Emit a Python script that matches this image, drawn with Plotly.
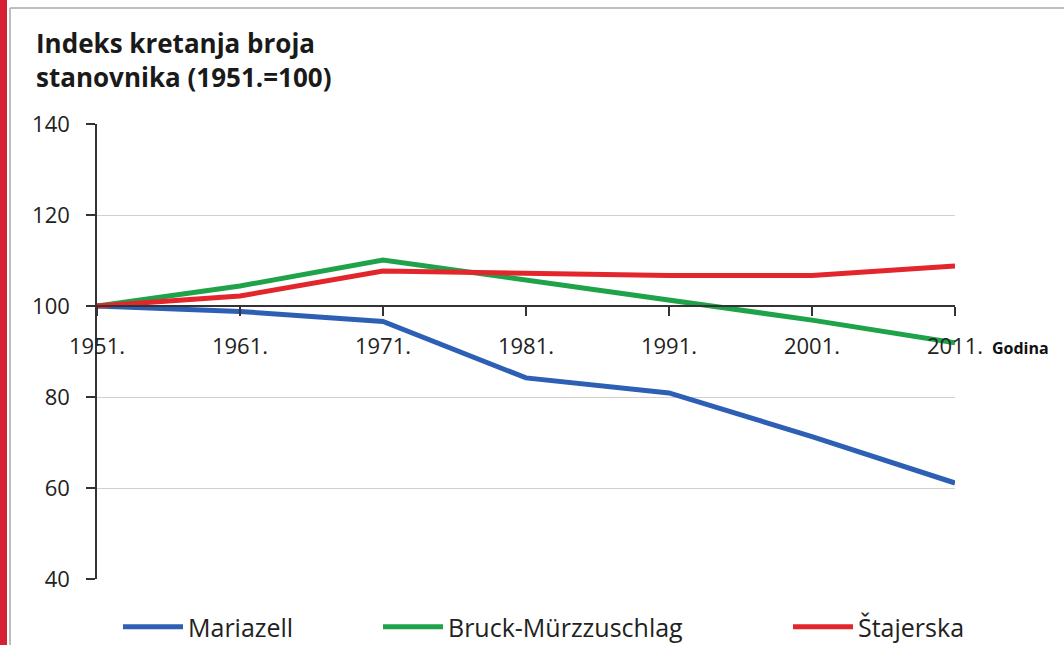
import plotly.graph_objects as go

years = ["1951.", "1961.", "1971.", "1981.", "1991.", "2001.", "2011."]
mariazell = [100, 98.8, 96.6, 84.2, 80.9, 71.3, 61.1]
bruck = [100, 104.4, 110.1, 105.7, 101.3, 96.9, 91.9]
stajerska = [100, 102.2, 107.7, 107.3, 106.7, 106.7, 108.8]
series_names = ["Mariazell", "Bruck-Mürzzuschlag", "Štajerska"]
colors = ["#2d5fb4", "#1ea34a", "#e3262b"]

L, R, T, B = 97, 1064 - 955, 124, 645 - 579
W = 1064 - L - R
H = 645 - T - B

fig = go.Figure()
for i, (name, vals) in enumerate(zip(series_names, [mariazell, bruck, stajerska])):
    fig.add_trace(go.Scatter(
        x=years, y=vals, mode="lines", name=name,
        line=dict(color=colors[i], width=5),
        legend="legend" if i == 0 else f"legend{i+1}",
    ))

font_fam = "Open Sans, Noto Sans, sans-serif"

def px_x(p):
    return (p - L) / W

def px_y(p):
    return (645 - B - p) / H

legend_common = dict(orientation="h", yanchor="middle", xanchor="left",
                     font=dict(family=font_fam, size=25, color="#222"),
                     bgcolor="rgba(0,0,0,0)", itemwidth=60)

fig.update_layout(
    width=1064, height=645,
    margin=dict(l=L, r=R, t=T, b=B, autoexpand=False),
    paper_bgcolor="white", plot_bgcolor="white",
    title=dict(text="<b>Indeks kretanja broja<br>stanovnika (1951.=100)</b>",
               x=36 / 1064, xanchor="left", y=1 - 53 / 645, yanchor="middle",
               font=dict(family=font_fam, size=26, color="#1a1a1a")),
    xaxis=dict(type="category", anchor="free", position=0.6,
               showgrid=False, showline=True, linecolor="#333", linewidth=1.5,
               ticks="outside", ticklen=9, tickcolor="#333", tickwidth=1.5,
               ticklabelstandoff=12,
               tickfont=dict(family=font_fam, size=22, color="#222"),
               range=[0, 6], zeroline=False),
    yaxis=dict(range=[40, 140], dtick=20, tick0=40,
               showgrid=True, gridcolor="#d4d0cc", gridwidth=1.2,
               showline=True, linecolor="#333", linewidth=1.5,
               ticks="outside", ticklen=9, tickcolor="#333", tickwidth=1.5,
               ticklabelstandoff=12,
               tickfont=dict(family=font_fam, size=22, color="#222"),
               zeroline=False),
    legend=dict(x=px_x(118), y=px_y(627), **legend_common),
    legend2=dict(x=px_x(378), y=px_y(627), **legend_common),
    legend3=dict(x=px_x(788), y=px_y(627), **legend_common),
    showlegend=True,
)

fig.add_annotation(text="<b>Godina</b>", xref="paper", yref="paper",
                   x=px_x(990), y=px_y(348), xanchor="left", yanchor="middle",
                   showarrow=False,
                   font=dict(family=font_fam, size=16, color="#111"))

# decorative frame: red bar and light gray border
fig.add_shape(type="rect", xref="paper", yref="paper",
              x0=px_x(0), x1=px_x(7), y0=px_y(645), y1=px_y(0),
              fillcolor="#d41f35", line=dict(width=0), layer="below")
fig.add_shape(type="line", xref="paper", yref="paper",
              x0=px_x(10), x1=px_x(1064), y0=px_y(8), y1=px_y(8),
              line=dict(color="#bdbdbd", width=2))
fig.add_shape(type="line", xref="paper", yref="paper",
              x0=px_x(10), x1=px_x(10), y0=px_y(8), y1=px_y(645),
              line=dict(color="#bdbdbd", width=2))

fig.write_html("out.html", config={"displayModeBar": False},
               post_script="document.body.style.margin='0';")
